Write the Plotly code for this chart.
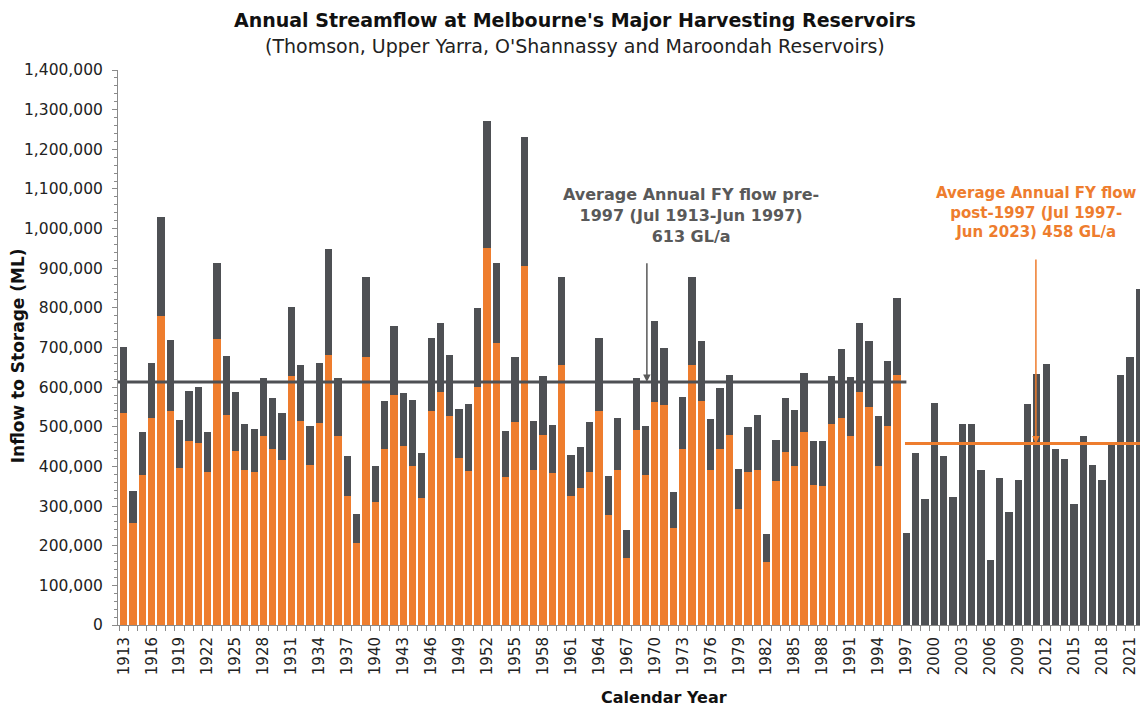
import plotly.graph_objects as go

years = list(range(1913, 2024))

# Total annual inflow (ML) - grey bars
total = [
    702000, 337000, 486000, 662000, 1030000, 719000, 517000, 590000, 600000, 486000,
    914000, 679000, 588000, 506000, 494000, 622000, 572000, 536000, 803000, 656000,
    502000, 661000, 949000, 622000, 426000, 281000, 878000, 400000, 565000, 754000,
    585000, 567000, 435000, 724000, 763000, 680000, 544000, 558000, 799000, 1272000,
    913000, 489000, 675000, 1230000, 515000, 627000, 504000, 878000, 428000, 450000,
    513000, 724000, 375000, 521000, 240000, 624000, 502000, 767000, 700000, 335000,
    576000, 878000, 716000, 519000, 597000, 630000, 394000, 499000, 531000, 229000,
    467000, 573000, 542000, 635000, 463000, 463000, 629000, 697000, 626000, 761000,
    716000, 527000, 666000, 826000,
    233000, 433000, 318000, 561000, 426000, 324000, 508000, 508000, 391000, 164000,
    372000, 286000, 367000, 558000, 634000, 659000, 443000, 419000, 306000, 476000,
    404000, 367000, 457000, 631000, 677000, 847000, 578000,
]

# Orange portion for 1913-1996
orange = [
    536000, 257000, 379000, 522000, 780000, 539000, 397000, 465000, 458000, 387000,
    722000, 531000, 438000, 391000, 387000, 476000, 445000, 415000, 627000, 514000,
    404000, 509000, 680000, 476000, 325000, 208000, 677000, 311000, 443000, 580000,
    451000, 402000, 320000, 541000, 588000, 528000, 422000, 388000, 600000, 952000,
    711000, 374000, 512000, 906000, 391000, 480000, 383000, 656000, 325000, 345000,
    387000, 541000, 277000, 392000, 169000, 491000, 379000, 563000, 555000, 245000,
    443000, 656000, 564000, 392000, 445000, 479000, 293000, 387000, 391000, 160000,
    364000, 437000, 400000, 488000, 352000, 350000, 507000, 522000, 478000, 587000,
    551000, 400000, 501000, 630000,
]
orange_years = years[:len(orange)]

pre_avg = 613000
post_avg = 458000
split_year = 1997

tick_years = years[::3]
tick_text = [str(y) for y in tick_years]

GREY = "#4E5054"
ORANGE = "#EE7D2E"
FONT = "DejaVu Sans"

x_min, x_max = 1912.39, 2022.93

fig = go.Figure()
fig.add_trace(go.Bar(x=years, y=total, marker=dict(color=GREY, line=dict(width=0)),
                     width=0.78, showlegend=False, hoverinfo="x+y"))
fig.add_trace(go.Bar(x=orange_years, y=orange, marker=dict(color=ORANGE, line=dict(width=0)),
                     width=0.78, showlegend=False, hoverinfo="x+y"))

# average lines
fig.add_trace(go.Scatter(x=[x_min, split_year], y=[pre_avg, pre_avg], mode="lines",
                         line=dict(color=GREY, width=3), showlegend=False, hoverinfo="skip"))
fig.add_trace(go.Scatter(x=[split_year - 0.15, x_max], y=[post_avg, post_avg], mode="lines",
                         line=dict(color=ORANGE, width=3), showlegend=False, hoverinfo="skip"))

annotations = [
    dict(text="<b>Annual Streamflow at Melbourne's Major Harvesting Reservoirs</b>",
         xref="paper", yref="paper", x=0.444, y=1.090, showarrow=False,
         font=dict(family=FONT, size=19, color="#111"), xanchor="center", yanchor="middle"),
    dict(text="(Thomson, Upper Yarra, O'Shannassy and Maroondah Reservoirs)",
         xref="paper", yref="paper", x=0.444, y=1.043, showarrow=False,
         font=dict(family=FONT, size=19, color="#222"), xanchor="center", yanchor="middle"),
    dict(text="<b>Inflow to Storage (ML)</b>", xref="paper", yref="paper",
         x=-0.0971, y=0.486, textangle=-90, showarrow=False,
         font=dict(family=FONT, size=17, color="#111"), xanchor="center", yanchor="middle"),
    dict(text="<b>Calendar Year</b>", xref="paper", yref="paper",
         x=0.530, y=-0.1315, showarrow=False,
         font=dict(family=FONT, size=16, color="#111"), xanchor="center", yanchor="middle"),
    # grey annotation
    dict(text="<b>Average Annual FY flow pre-<br>1997 (Jul 1913-Jun 1997)<br>613 GL/a</b>",
         xref="x", yref="y", x=1973.9, y=1032000, showarrow=False, align="center",
         font=dict(family=FONT, size=16, color="#595959"), xanchor="center", yanchor="middle"),
    dict(x=1969.15, y=pre_avg, ax=1969.15, ay=916000, xref="x", yref="y", axref="x", ayref="y",
         showarrow=True, arrowhead=2, arrowsize=1, arrowwidth=1.5, arrowcolor="#595959", text=""),
    # orange annotation
    dict(text="<b>Average Annual FY flow<br>post-1997 (Jul 1997-<br>Jun 2023) 458 GL/a</b>",
         xref="x", yref="y", x=2011.0, y=1040000, showarrow=False, align="center",
         font=dict(family=FONT, size=15, color=ORANGE), xanchor="center", yanchor="middle"),
    dict(x=2010.9, y=post_avg, ax=2010.9, ay=926000, xref="x", yref="y", axref="x", ayref="y",
         showarrow=True, arrowhead=2, arrowsize=1, arrowwidth=1.5, arrowcolor=ORANGE, text=""),
]

fig.update_layout(
    width=1140, height=698,
    margin=dict(l=110, r=0, t=62, b=81),
    paper_bgcolor="white", plot_bgcolor="white",
    barmode="overlay", bargap=0,
    font=dict(family=FONT, size=15, color="#222"),
    annotations=annotations,
    xaxis=dict(
        range=[x_min, x_max], tickmode="array", tickvals=tick_years, ticktext=tick_text,
        tickangle=-90, ticks="outside", ticklen=5, tickcolor="rgba(0,0,0,0)",
        showline=True, linecolor="#8a8a8a", linewidth=1, showgrid=False, zeroline=False,
        tickfont=dict(family=FONT, size=15, color="#222"),
        minor=dict(tick0=1912.5, dtick=1, ticks="outside", ticklen=5, tickcolor="#8a8a8a", showgrid=False),
    ),
    yaxis=dict(
        range=[0, 1400000], dtick=100000, tickformat=",", ticks="outside", ticklen=5,
        tickcolor="#8a8a8a", showline=True, linecolor="#8a8a8a", linewidth=1,
        showgrid=False, zeroline=False, ticklabelstandoff=6,
        tickfont=dict(family=FONT, size=15.5, color="#222"),
        minor=dict(dtick=20000, ticks="outside", ticklen=3, tickcolor="#8a8a8a", showgrid=False),
    ),
)

fig.write_html("out.html")
